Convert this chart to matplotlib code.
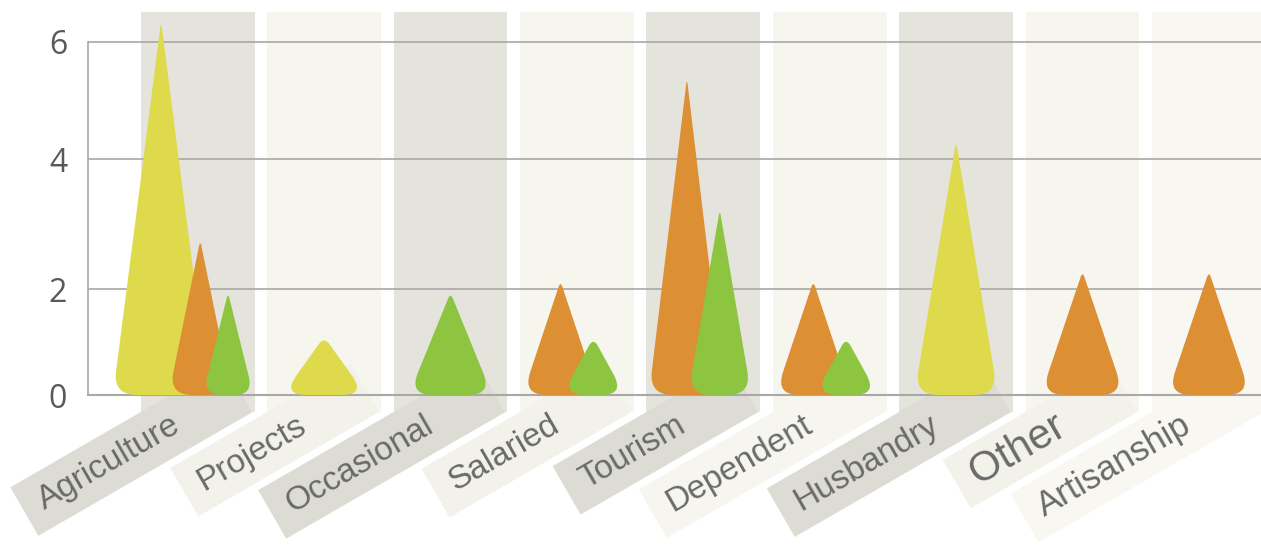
import numpy as np
import matplotlib
matplotlib.use('Agg')
import matplotlib.pyplot as plt
from matplotlib.path import Path
from matplotlib.patches import PathPatch, Polygon, Rectangle
from matplotlib.transforms import IdentityTransform, blended_transform_factory

# data
categories = ['Agriculture', 'Projects', 'Occasional', 'Salaried', 'Tourism',
              'Dependent', 'Husbandry', 'Other', 'Artisanship']
yellow_vals = [6.35, 1.1, 0, 0, 0, 0, 4.3, 0, 0]
orange_vals = [2.75, 0, 0, 2.12, 5.38, 2.12, 0, 2.27, 2.27]
green_vals = [1.93, 0, 1.93, 1.08, 3.22, 1.08, 0, 0, 0]
y_ticks = [0, 2, 4, 6]
y_tick_labels = ['0', '2', '4', '6']

# the value axis is not evenly spaced in the original
scale_vals = [0, 2, 4, 6, 8]
scale_px = [0, 106, 236, 353, 470]

def fwd(v):
    return np.interp(v, scale_vals, scale_px)

def inv(p):
    return np.interp(p, scale_px, scale_vals)

SERIES_COLORS = ['#DEDA4B', '#DC8F33', '#8DC541']
DARK, LIGHT = '#e4e3dc', '#f6f5ee'
band_shade = [DARK, LIGHT, DARK, LIGHT, DARK, LIGHT, DARK, LIGHT, '#f8f7f1']
ribbon_shade = ['#dddcd4', '#f3f2ea', '#dddcd4', '#f3f2ea', '#dddcd4', '#f6f5ef',
                '#dddcd4', '#f3f2ea', '#f8f7f2']
label_size = [24, 24, 24, 24, 24, 24, 24, 30, 25]

OFFSETS = {1: [0.0], 2: [-0.13, 0.13], 3: [-0.29, 0.02, 0.24]}
WIDTHS = {1: [0.66], 2: [0.6, 0.5], 3: [0.76, 0.5, 0.4]}

W, H = 1261, 558
fig = plt.figure(figsize=(W / 100, H / 100), dpi=100)
ax = fig.add_axes([88 / W, 163 / H, 1173 / W, 383 / H])
ax.set_facecolor('none')
ax.set_yscale('function', functions=(fwd, inv))
ax.set_xlim(-0.868, 8.412)
ax.set_ylim(0, float(inv(383)))

for s in ['top', 'right']:
    ax.spines[s].set_visible(False)
ax.spines['left'].set_color('#a8a8a8')
ax.spines['left'].set_linewidth(1.2)
ax.spines['left'].set_bounds(0, 6)
ax.spines['bottom'].set_color('#a8a8a8')
ax.spines['bottom'].set_linewidth(1.5)
ax.spines['bottom'].set_zorder(1)
ax.set_yticks(y_ticks)
ax.set_yticklabels(y_tick_labels, family='Open Sans')
ax.tick_params(axis='y', length=0, pad=15, labelsize=23, labelcolor='#595959')
ax.set_xticks([])
for t in y_ticks[1:]:
    ax.axhline(t, color='#a8a8a8', lw=1.2, zorder=1)

bt = blended_transform_factory(ax.transData, ax.transAxes)
renderer = fig.canvas.get_renderer()
ang = np.deg2rad(30)
u = np.array([np.cos(ang), np.sin(ang)])
n = np.array([-np.sin(ang), np.cos(ang)])


def toward(a, b, d):
    v = b - a
    return a + v / np.linalg.norm(v) * d


def spike(x, val, width, color, z):
    t = ax.transData
    xb, yb = t.transform((x, 0))
    xt, yt = t.transform((x, val))
    half = t.transform((x + width / 2, 0))[0] - xb
    L = np.array([xb - half, yb])
    R = np.array([xb + half, yb])
    T = np.array([xt, yt])
    rb = min(24, half * 0.75)
    rt = 9 if (yt - yb) < 80 else 6
    verts = [toward(L, R, rb), toward(R, L, rb), R, toward(R, T, rb),
             toward(T, R, rt), T, toward(T, L, rt), toward(L, T, rb), L,
             toward(L, R, rb), toward(L, R, rb)]
    codes = [Path.MOVETO, Path.LINETO, Path.CURVE3, Path.CURVE3,
             Path.LINETO, Path.CURVE3, Path.CURVE3, Path.LINETO, Path.CURVE3,
             Path.CURVE3, Path.CLOSEPOLY]
    ax.add_patch(PathPatch(Path(verts, codes), facecolor=color, edgecolor='none',
                           transform=IdentityTransform(), clip_on=False, zorder=z))


for i, cat in enumerate(categories):
    # column band
    ax.add_patch(Rectangle((i - 0.45, -0.044), 0.9, 1.044, transform=bt,
                           facecolor=band_shade[i], edgecolor='none',
                           clip_on=False, zorder=0.4))
    # slanted label tag
    xc = ax.transData.transform((i, 0))[0]
    E = np.array([xc - 20, H - 423])
    tmp = fig.text(0, 0, cat, fontsize=label_size[i], family='Liberation Sans')
    tl = tmp.get_window_extent(renderer).width
    tmp.remove()
    s_l, s_r, h = -(tl + 18), 70, 56
    corners = [E + u * s_r + n * h / 2, E + u * s_l + n * h / 2,
               E + u * s_l - n * h / 2, E + u * s_r - n * h / 2]
    ax.add_patch(Polygon(corners, closed=True, facecolor=ribbon_shade[i],
                         edgecolor='none', transform=IdentityTransform(),
                         clip_on=False, zorder=0.5))
    ax.text(E[0], E[1], cat, transform=IdentityTransform(), rotation=30,
            rotation_mode='anchor', ha='right', va='center',
            fontsize=label_size[i], family='Liberation Sans', color='#6a6a6a',
            clip_on=False, zorder=3)

    # spikes
    vals = [yellow_vals[i], orange_vals[i], green_vals[i]]
    present = [k for k, v in enumerate(vals) if v > 0]
    m = len(present)
    for j, k in enumerate(present):
        spike(i + OFFSETS[m][j], vals[k], WIDTHS[m][j], SERIES_COLORS[k], 2 + j * 0.1)

fig.savefig('out.png', dpi=100)
